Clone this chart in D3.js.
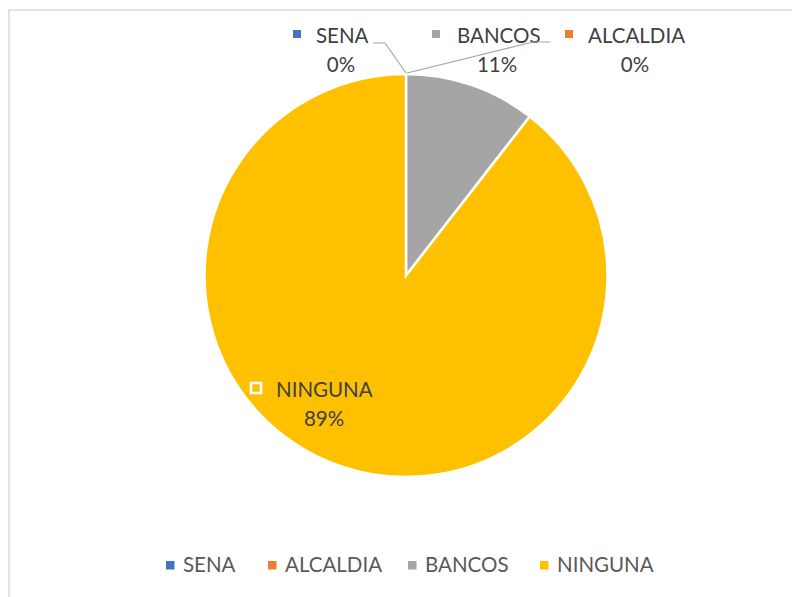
<!DOCTYPE html>
<html><head><meta charset="utf-8">
<script src="https://cdn.jsdelivr.net/npm/d3@7"></script>
<style>body{margin:0;background:#fff}svg{display:block}text{font-family:Lato,"Liberation Sans",sans-serif;fill:#404040}</style>
</head><body><svg id="c" width="792" height="597"></svg>
<script>
const categories = ["SENA", "ALCALDIA", "BANCOS", "NINGUNA"];
const values = [0, 0, 2, 17];
const colors = ["#4472C4", "#ED7D31", "#A5A5A5", "#FFC000"];

const svg = d3.select("#c");
svg.append("rect").attr("x", 9).attr("y", 10).attr("width", 800).attr("height", 600)
  .attr("fill", "#fff").attr("stroke", "#d9d9d9").attr("stroke-width", 1.5);

const cx = 406, cy = 275.5, R = 201.5;
const fs = 20.5;
const total = d3.sum(values);
const pie = d3.pie().sort(null).value(d => d)(values);
const arc = d3.arc().innerRadius(0).outerRadius(R);
const g = svg.append("g").attr("transform", `translate(${cx},${cy})`);
g.selectAll("path").data(pie).join("path")
  .attr("d", arc).attr("fill", (d, i) => colors[i])
  .attr("stroke", "#fff").attr("stroke-width", 2.5).attr("stroke-linejoin", "miter");

const pct = v => Math.round(v / total * 100) + "%";

// data label layout: key square x, text start x, percent centre x, baseline y
const labelPos = {
  SENA: { kx: 293, tx: 316, px: 341, y: 43, lineX: [373, 385] },
  BANCOS: { kx: 432, tx: 457, px: 497, y: 43, lineX: [533, 550] },
  ALCALDIA: { kx: 565, tx: 588, px: 635, y: 43 },
  NINGUNA: { kx: 251, tx: 276, px: 324, y: 397 }
};
categories.forEach((c, i) => {
  const p = labelPos[c];
  const grp = svg.append("g");
  if (c === "NINGUNA") {
    grp.append("rect").attr("x", p.kx).attr("y", p.y - 14).attr("width", 10).attr("height", 10)
      .attr("fill", colors[i]).attr("stroke", "#fff").attr("stroke-width", 2.5);
  } else {
    grp.append("rect").attr("x", p.kx).attr("y", p.y - 13).attr("width", 8).attr("height", 8).attr("fill", colors[i]);
  }
  grp.append("text").attr("x", p.tx).attr("y", p.y).attr("font-size", fs).text(c);
  grp.append("text").attr("x", p.px).attr("y", p.y + 29).attr("text-anchor", "middle")
    .attr("font-size", fs).text(pct(values[i]));
  if (p.lineX) {
    const a = pie[i].startAngle;
    const ex = cx + Math.sin(a) * (R + 1), ey = cy - Math.cos(a) * (R + 1);
    const pts = c === "SENA"
      ? [[p.lineX[0], p.y], [p.lineX[1], p.y], [ex, ey]]
      : [[p.lineX[1], p.y - 1], [p.lineX[0], p.y - 1], [ex + 1, ey]];
    svg.append("path").attr("d", d3.line()(pts)).attr("fill", "none")
      .attr("stroke", "#a6a6a6").attr("stroke-width", 1.2);
  }
});

// bottom legend
const legX = [166, 268, 408, 540];
const lg = svg.append("g");
categories.forEach((c, i) => {
  lg.append("rect").attr("x", legX[i]).attr("y", 561).attr("width", 8.5).attr("height", 8.5).attr("fill", colors[i]);
  lg.append("text").attr("x", legX[i] + 17).attr("y", 572).attr("font-size", fs)
    .style("fill", "#595959").text(c);
});
</script></body></html>
